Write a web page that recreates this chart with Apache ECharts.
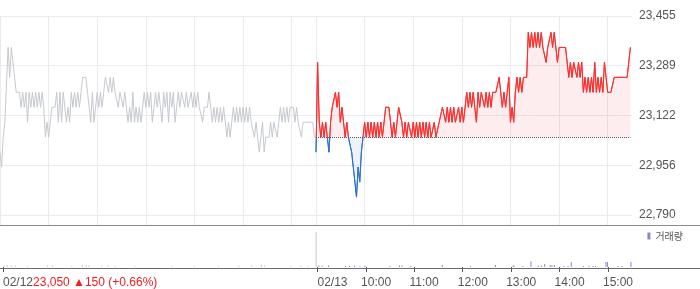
<!DOCTYPE html>
<html><head><meta charset="utf-8">
<script src="https://cdn.jsdelivr.net/npm/echarts@6/dist/echarts.min.js"></script>
<style>html,body{margin:0;padding:0;background:#fff}#c{width:700px;height:289px}</style>
</head><body><div id="c"></div>
<script>
// ---- data (prices sampled every 2 minutes; day1 09:00-15:28, day2 09:00-15:28) ----
const day1Prices = [
23000,22950,23050,23100,23100, 23350,23250,23350,23300,23250, 23200,23200,23200,23150,23200,
23150,23200,23100,23200,23150, 23200,23150,23200,23150,23200, 23150,23200,23150,23050,23100,
23050,23100,23150,23150,23150, 23200,23100,23200,23100,23200, 23150,23100,23150,23100,23200,
23150,23200,23150,23200,23150, 23200,23250,23250,23250,23200, 23150,23100,23200,23100,23150,
23200,23150,23200,23150,23200, 23250,23250,23200,23250,23200, 23250,23200,23200,23150,23200,
23200,23150,23200,23150,23100, 23150,23100,23200,23100,23150, 23100,23150,23100,23150,23200,
23150,23200,23150,23200,23100, 23150,23200,23150,23200,23150, 23100,23200,23150,23200,23100,
23200,23150,23200,23100,23150, 23200,23150,23200,23200,23150, 23200,23150,23150,23200,23150,
23200,23150,23200,23150,23150, 23100,23150,23150,23150,23200, 23150,23100,23150,23100,23150,
23100,23150,23100,23150,23100, 23050,23100,23050,23100,23150, 23100,23150,23100,23150,23100,
23150,23100,23150,23100,23150, 23100,23100,23050,23100,23050, 23000,23050,23100,23000,23050,
23050,23050,23100,23050,23100, 23100,23050,23100,23150,23100, 23150,23100,23150,23100,23150,
23150,23150,23100,23150,23100, 23100,23050,23100,23100,23100, 23100,23100,23100,23100,23050
];
const day2Prices = [
23000,23300,23100,23050,23100, 23050,23100,23050,23000,23100, 23150,23150,23200,23150,23200,
23100,23150,23100,23050,23100, 23050,23050,23000,22950,22900, 22850,22950,22900,23000,23050,
23100,23050,23100,23050,23100, 23050,23100,23050,23100,23050, 23100,23050,23100,23150,23150,
23150,23100,23050,23100,23050, 23100,23150,23150,23100,23050, 23100,23050,23100,23100,23050,
23100,23050,23100,23050,23100, 23050,23100,23050,23100,23050, 23100,23050,23050,23100,23050,
23050,23100,23100,23150,23150, 23100,23150,23100,23150,23100, 23150,23100,23100,23150,23100,
23150,23100,23150,23200,23150, 23200,23150,23200,23150,23100, 23200,23150,23200,23200,23150,
23200,23150,23200,23150,23200, 23200,23200,23200,23250,23200, 23150,23200,23150,23200,23250,
23100,23150,23100,23200,23250, 23200,23250,23200,23250,23250, 23250,23400,23350,23400,23350,
23400,23350,23400,23350,23400, 23350,23350,23300,23350,23350, 23400,23350,23400,23400,23300,
23350,23350,23350,23350,23350, 23350,23250,23300,23250,23300, 23300,23250,23300,23250,23300,
23200,23250,23200,23250,23200, 23250,23200,23300,23200,23250, 23200,23250,23200,23300,23250,
23200,23200,23200,23200,23250, 23250,23250,23250,23250,23250, 23250,23250,23250,23250,23350
];
const sampleMinutes = 2;
const day2StartMinute = 390;
const basePrice = 23050;

const vol1Minutes = [2,6,11,16,31,56,62,86,99,104,107,123,131,140,164,210,238,268,293,309,321,325,358,370,379,389];
const vol1Values  = [1500,2000,1200,1500,1000,1800,1500,1000,2200,1800,1500,1200,1500,1000,1000,1000,1000,1000,1200,1500,2500,1500,1000,1200,1000,36000];
const vol2Minutes = [391,395,403,424,429,435,442,448,479,491,494,505,544,579,610,632,633,644,654,663,667,671,678,680,683,695,700,704,719,726,731,734,747,749,762,767,778];
const vol2Values  = [1500,1200,1500,1000,1200,1500,1000,1200,1000,1500,1500,1000,2000,1000,2000,1500,1200,1000,6000,1500,1500,3000,2000,1500,2000,1000,1000,5000,1000,1000,1000,1000,5000,5000,1000,1000,5000];

const yTickValues = [22790, 22956, 23122, 23289, 23455];
const mainGridMinutes = [0,60,120,180,240,300,360,390,450,510,570,630,690,750];
const volTickMinutes = [0,390,450,510,570,630,690,750];
const xLabelMinutes = [0,390,444,504,564,624,684,744];
const xLabelTexts = ['02/12','02/13','10:00','11:00','12:00','13:00','14:00','15:00'];
const day1Summary = '23,050 ▲150 (+0.66%)';

// ---- build series data ----
const d1 = day1Prices.map((v,i)=>[i*sampleMinutes, v]);
const d2 = day2Prices.map((v,i)=>[day2StartMinute + i*sampleMinutes, v]);
const v1 = vol1Minutes.map((m,i)=>[m, vol1Values[i]]);
const v2 = vol2Minutes.map((m,i)=>[m, vol2Values[i]]);
const lastMinute = d2[d2.length-1][0];

const FONT = "'Liberation Sans','Noto Sans CJK KR',sans-serif";
const RED = '#ff2d2d', BLUE = '#2c6fd3';
const chart = echarts.init(document.getElementById('c'), null, {renderer:'canvas'});

const option = {
  animation:false,
  backgroundColor:'#fff',
  textStyle:{fontFamily:FONT},
  grid:[
    {left:0, right:68, top:16, bottom:63.5},
    {left:0, right:68, top:228, bottom:21}
  ],
  legend:{
    data:['거래량'], right:17, top:231, padding:0, icon:'rect', itemWidth:3, itemHeight:7, itemGap:4,
    textStyle:{fontSize:10, color:'#555', fontFamily:"'Noto Sans CJK KR',sans-serif"}
  },
  xAxis:[
    {gridIndex:0, type:'value', min:0, max:780,
     axisLine:{show:false}, axisLabel:{show:false},
     axisTick:{show:false, customValues:mainGridMinutes},
     splitLine:{show:true, lineStyle:{color:'#ebebeb', width:1}}},
    {gridIndex:1, type:'value', min:0, max:780,
     axisLine:{show:false},
     axisTick:{show:true, customValues:volTickMinutes, length:5, lineStyle:{color:'#555'}},
     splitLine:{show:false},
     axisLabel:{customValues:xLabelMinutes, align:'left', margin:10, fontSize:12, color:'#555',
       formatter:function(v){
         const idx = xLabelMinutes.indexOf(v);
         const t = idx>=0 ? xLabelTexts[idx] : '';
         if (v===0) return '{d|'+t+'}{r|'+day1Summary+'}';
         return t;
       },
       rich:{d:{fontSize:12,color:'#555',fontFamily:FONT}, r:{fontSize:12,color:'#f02020',fontFamily:FONT}}
     }}
  ],
  yAxis:[
    {gridIndex:0, type:'value', position:'right', min:22755, max:23455,
     axisLine:{show:false},
     axisTick:{show:false, customValues:yTickValues},
     axisLabel:{customValues:yTickValues, margin:7, fontSize:12, color:'#555',
       formatter:v=>Math.round(v).toLocaleString('en-US')},
     splitLine:{show:true, lineStyle:{color:'#ebebeb', width:1}}},
    {gridIndex:1, type:'value', min:0, max:40000, show:false, splitLine:{show:false}}
  ],
  series:[
    {name:'day1', type:'line', xAxisIndex:0, yAxisIndex:0, data:d1, symbol:'none',
     lineStyle:{color:'#c5c8ce', width:1}, z:3},
    {name:'day2', type:'line', xAxisIndex:0, yAxisIndex:0, data:d2, symbol:'none',
     lineStyle:{color:RED, width:1}, areaStyle:{origin:basePrice, color:'rgba(255,0,0,0.1)'}, z:3,
     markLine:{silent:true, symbol:'none', label:{show:false},
       lineStyle:{type:'dotted', color:'#555', width:1},
       data:[[{coord:[day2StartMinute, basePrice]},{coord:[lastMinute, basePrice]}]]}},
    {name:'vol1', type:'bar', xAxisIndex:1, yAxisIndex:1, data:v1, barWidth:1, itemStyle:{color:'#c8c8c8'}},
    {name:'거래량', type:'bar', xAxisIndex:1, yAxisIndex:1, data:v2, barWidth:1, itemStyle:{color:'#9580d0'}}
  ],
  graphic:[
    {type:'line', shape:{x1:0,y1:225.5,x2:700,y2:225.5}, style:{stroke:'#8a8a8a', lineWidth:1}, silent:true, z:10},
    {type:'line', shape:{x1:0,y1:268.5,x2:700,y2:268.5}, style:{stroke:'#6a6a6a', lineWidth:1}, silent:true, z:10}
  ]
};
chart.setOption(option);

// colour split at the reference price, in pixel space
const baseY = chart.convertToPixel({xAxisIndex:0, yAxisIndex:0}, [0, basePrice])[1];
const H = 289;
function split(above, below, y){
  const o = Math.min(1, Math.max(0, y / H));
  return {type:'linear', x:0, y:0, x2:0, y2:H, global:true,
    colorStops:[{offset:0,color:above},{offset:o,color:above},{offset:o,color:below},{offset:1,color:below}]};
}
chart.setOption({series:[{}, {
  lineStyle:{color:split(RED, BLUE, baseY+1)},
  areaStyle:{origin:basePrice, color:split('rgba(250,60,70,0.13)', 'rgba(60,120,220,0.13)', baseY)}
}]});
</script></body></html>
